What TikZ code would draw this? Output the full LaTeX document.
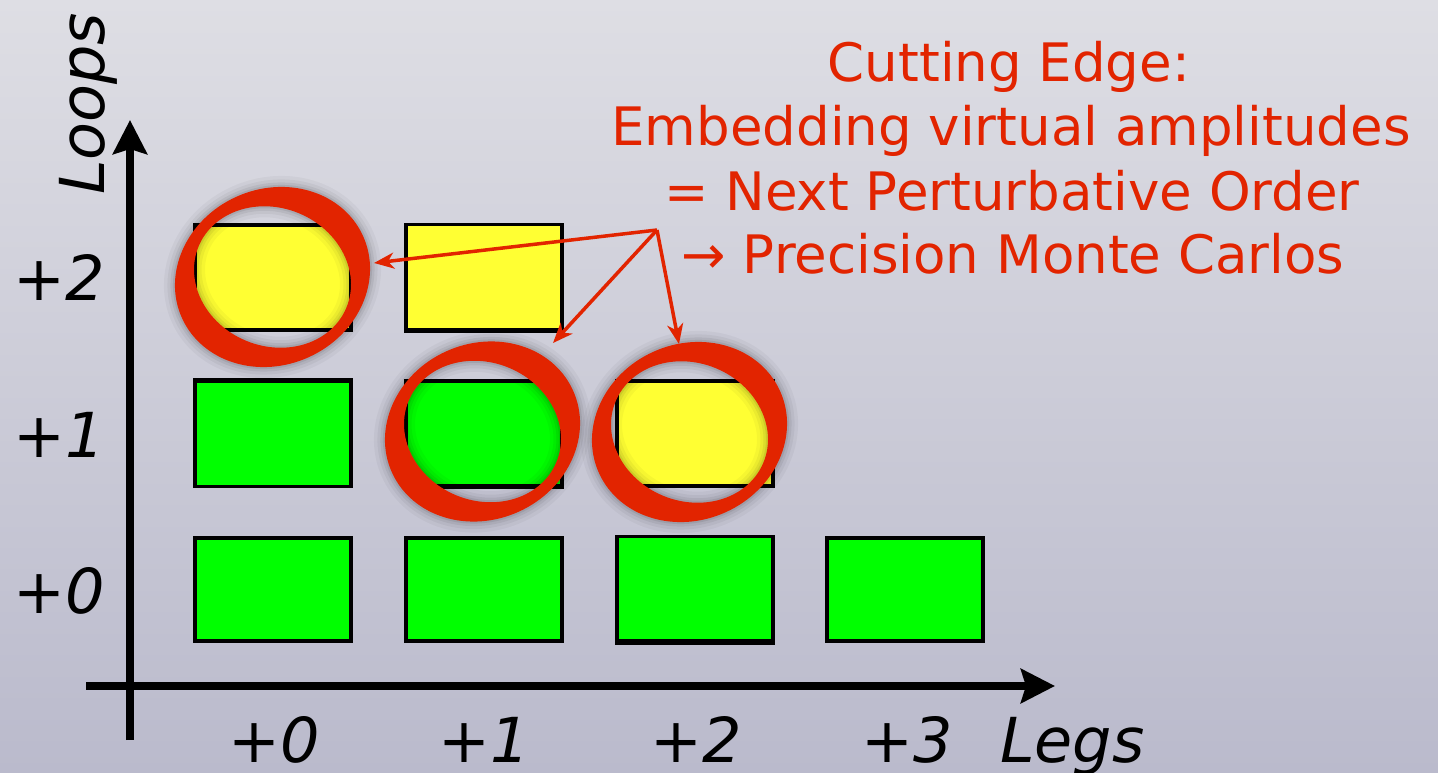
\documentclass[tikz,border=0pt]{standalone}
\usepackage{fontspec}
\setmainfont{DejaVu Sans}
\usetikzlibrary{arrows.meta}
\definecolor{bgtop}{RGB}{222,222,228}
\definecolor{bgbot}{RGB}{186,186,204}
\definecolor{hired}{RGB}{226,36,0}
\definecolor{boxgreen}{RGB}{0,255,0}
\definecolor{boxyellow}{RGB}{255,255,51}
\tikzset{
  cell/.style={draw=black, line width=3.5pt, minimum width=156pt, minimum height=104pt, inner sep=0pt},
  gcell/.style={cell, fill=boxgreen},
  ycell/.style={cell, fill=boxyellow},
  axisline/.style={line width=7.5pt, -{Stealth[length=34pt,width=34pt,inset=5pt]}},
  callout/.style={draw=hired, line width=3.5pt, -{Stealth[length=20pt,width=16pt,inset=6pt]}},
  lab/.style={font=\fontsize{62}{62}\selectfont\itshape, inner sep=0pt},
  note/.style={font=\fontsize{53}{63}\selectfont, text=hired, inner sep=0pt, anchor=base},
  ring/.pic={
    \foreach \w/\o in {22/0.035,15/0.045,9/0.06,4/0.08}{
      \draw[black, opacity=\o, line width=\w pt, rotate=24.5] (0,0) ellipse [x radius=99.4pt, y radius=88pt];
      \draw[black, opacity=\o, line width=\w pt, rotate=-22.5] (0,0) ellipse [x radius=80pt, y radius=69pt];
    }
    \fill[hired, even odd rule] [rotate=24.5] (0,0) ellipse [x radius=99.4pt, y radius=88pt]
      [rotate=-47] (0,0) ellipse [x radius=80pt, y radius=69pt];
  }
}
\begin{document}
\begin{tikzpicture}[x=1pt,y=-1pt]
\useasboundingbox (0,0) rectangle (1438,773);
\shade[top color=bgtop, bottom color=bgbot] (0,0) rectangle (1438,773);

% axes
\coordinate (yfoot) at (130,740);
\coordinate (ytip) at (130,120);
\coordinate (xfoot) at (86,686);
\coordinate (xtip) at (1055,686);
\draw[axisline] (yfoot) -- (ytip);
\draw[axisline] (xfoot) -- (xtip);

% cells
\node[gcell, minimum height=103pt] (r0c0) at (273,589.5) {};
\node[gcell, minimum height=103pt] (r0c1) at (484,589.5) {};
\node[gcell, minimum height=105pt] (r0c2) at (695,589) {};
\node[gcell, minimum height=103pt] (r0c3) at (905,589.5) {};
\node[gcell, minimum height=105pt] (r1c0) at (273,434) {};
\node[gcell, minimum height=105pt] (r1c1) at (484,433.5) {};
\node[ycell, minimum height=105pt] (r1c2) at (695,433.5) {};
\node[ycell, minimum height=105pt] (r2c0) at (273,277.5) {};
\node[ycell, minimum height=105pt] (r2c1) at (484,277) {};
\draw[line width=6pt] ([yshift=1.5pt]r0c2.south west) -- ([yshift=1.5pt]r0c2.south east);
\draw[line width=5pt] ([yshift=1pt]r1c1.south west) -- ([yshift=1pt]r1c1.south east);
\draw[line width=5pt] ([yshift=1pt]r2c1.south west) -- ([yshift=1pt]r2c1.south east);
\draw[line width=5pt] ([yshift=-1pt]r1c0.north west) -- ([yshift=-1pt]r1c0.north east);

% rings
\pic (ringA) at (272.5,277) {ring};
\pic (ringB) at (482.5,431.5) {ring};
\pic (ringC) at (689.5,432) {ring};

% callout arrows
\coordinate (apex) at (657,230);
\coordinate (tipA) at (374,263);
\coordinate (tipB) at (553,343);
\coordinate (tipC) at (679,344);
\draw[callout] (apex) -- (tipA);
\draw[callout] (apex) -- (tipB);
\draw[callout] (apex) -- (tipC);

% note text
\node[note] (n1) at (1009,82) {Cutting Edge:};
\node[note] (n2) at (1011,146) {Embedding virtual amplitudes};
\node[note] (n3) at (1012,210) {= Next Perturbative Order};
\node[note] (n4) at (1013,273) {→ Precision Monte Carlos};

% axis labels
\node[lab, rotate=90, anchor=base west] (loops) at (104,195) {Loops};
\node[lab, anchor=base west] (y2) at (13,300) {+2};
\node[lab, anchor=base west] (y1) at (13,457) {+1};
\node[lab, anchor=base west] (y0) at (13,613) {+0};
\node[lab, text depth=0pt, anchor=base west] (x0) at (228,762) {+0};
\node[lab, text depth=0pt, anchor=base west] (x1) at (438,762) {+1};
\node[lab, text depth=0pt, anchor=base west] (x2) at (650,762) {+2};
\node[lab, text depth=0pt, anchor=base west] (x3) at (861,762) {+3};
\node[lab, anchor=base west] (legs) at (1000,762) {Legs};
\end{tikzpicture}
\end{document}
